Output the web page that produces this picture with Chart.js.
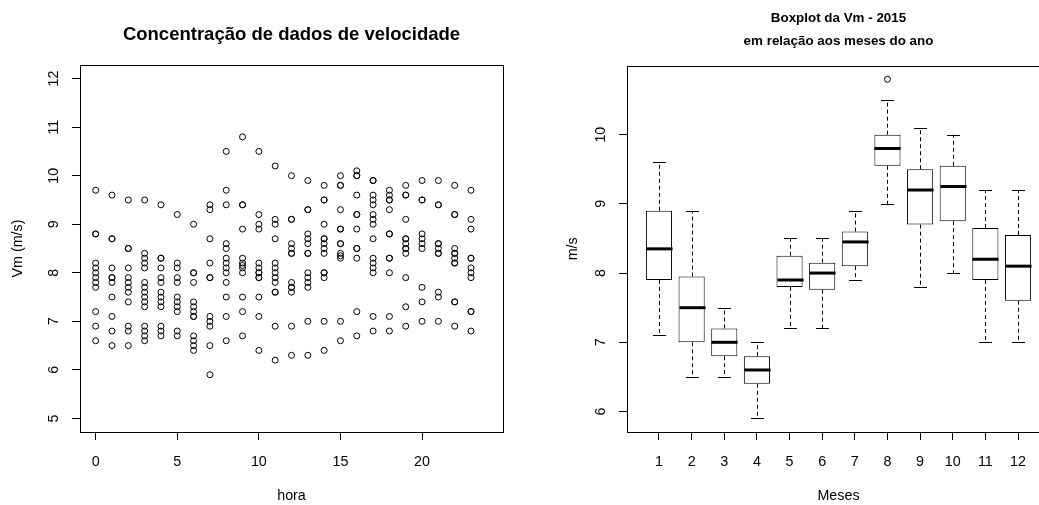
<!DOCTYPE html>
<html>
<head>
<meta charset="utf-8">
<script src="https://cdn.jsdelivr.net/npm/chart.js@4.4.0/dist/chart.umd.min.js"></script>
<style>
  html, body { margin: 0; padding: 0; background: #fff; overflow: hidden; }
  #left { position: absolute; left: 0; top: 0; width: 583px; height: 505px; }
  #right { position: absolute; left: 520px; top: 0; width: 637px; height: 505px; }
</style>
</head>
<body>
<div id="left"><canvas id="scatter"></canvas></div>
<div id="right"><canvas id="boxplot"></canvas></div>
<script>
// hourly speeds (one list per hour)
const horas = [0, 1, 2, 3, 4, 5, 6, 7, 8, 9, 10, 11, 12, 13, 14, 15, 16, 17, 18, 19, 20, 21, 22, 23];
const velocidades = [
  [9.7, 8.8, 8.8, 8.2, 8.1, 8.0, 7.9, 7.8, 7.7, 7.2, 6.9, 6.6],
  [9.6, 8.7, 8.7, 8.1, 7.9, 7.9, 7.8, 7.5, 7.1, 6.8, 6.5],
  [9.5, 8.5, 8.5, 8.1, 7.9, 7.8, 7.7, 7.6, 7.4, 6.9, 6.8, 6.5],
  [9.5, 8.4, 8.3, 8.2, 8.1, 7.8, 7.7, 7.6, 7.5, 7.4, 7.3, 6.9, 6.8, 6.7, 6.6],
  [9.4, 8.3, 8.3, 8.1, 7.9, 7.8, 7.6, 7.5, 7.4, 7.3, 6.9, 6.8, 6.7],
  [9.2, 8.2, 8.1, 7.9, 7.8, 7.5, 7.4, 7.3, 7.2, 6.8, 6.7],
  [9.0, 8.0, 8.0, 7.8, 7.4, 7.3, 7.2, 7.1, 7.1, 6.7, 6.6, 6.5, 6.4],
  [9.4, 9.3, 8.7, 8.2, 7.9, 7.9, 7.1, 7.0, 6.9, 6.5, 5.9],
  [10.5, 9.7, 9.4, 8.6, 8.5, 8.3, 8.2, 8.1, 8.0, 7.8, 7.5, 7.1, 6.6],
  [10.8, 9.4, 9.4, 8.9, 8.3, 8.2, 8.15, 8.1, 8.0, 7.5, 7.2, 6.7],
  [10.5, 9.2, 9.0, 8.9, 8.2, 8.1, 8.0, 8.0, 7.9, 7.9, 7.5, 7.1, 6.4],
  [10.2, 9.1, 9.0, 8.7, 8.2, 8.1, 8.0, 7.9, 7.8, 7.6, 7.6, 6.9, 6.2],
  [10.0, 9.1, 9.1, 8.6, 8.5, 8.4, 8.4, 7.8, 7.7, 7.7, 7.6, 6.9, 6.3],
  [9.9, 9.3, 9.3, 8.8, 8.7, 8.6, 8.4, 8.4, 8.0, 7.9, 7.8, 7.7, 7.0, 6.3],
  [9.8, 9.5, 9.5, 9.0, 8.7, 8.7, 8.6, 8.5, 8.4, 8.0, 8.0, 7.9, 7.0, 6.4],
  [10.0, 9.8, 9.8, 9.3, 8.9, 8.9, 8.6, 8.6, 8.4, 8.35, 8.3, 7.0, 6.6],
  [10.1, 10.0, 10.0, 9.6, 9.2, 9.2, 8.9, 8.5, 8.5, 8.3, 7.2, 6.7],
  [9.9, 9.9, 9.6, 9.5, 9.4, 9.2, 9.1, 9.0, 8.7, 8.3, 8.2, 8.1, 8.0, 7.1, 6.8],
  [9.7, 9.6, 9.5, 9.5, 9.3, 8.8, 8.8, 8.3, 8.3, 8.0, 7.1, 6.8],
  [9.8, 9.6, 9.6, 9.1, 8.7, 8.7, 8.6, 8.5, 8.5, 8.4, 7.9, 7.3, 6.9],
  [9.9, 9.5, 9.5, 8.8, 8.7, 8.6, 8.5, 7.7, 7.4, 7.0],
  [9.9, 9.4, 9.4, 8.6, 8.6, 8.5, 8.4, 8.4, 7.6, 7.5, 7.0],
  [9.8, 9.2, 9.2, 8.5, 8.4, 8.4, 8.3, 8.2, 8.2, 7.4, 7.4, 6.9],
  [9.7, 9.1, 8.9, 8.3, 8.3, 8.1, 8.0, 7.9, 7.2, 7.2, 6.8]
];
const horaTicks = [0, 5, 10, 15, 20];
const vmTicks = [5, 6, 7, 8, 9, 10, 11, 12];

// monthly boxplot stats
const meses = [1, 2, 3, 4, 5, 6, 7, 8, 9, 10, 11, 12];
const limInf = [7.1, 6.5, 6.5, 5.9, 7.2, 7.2, 7.9, 9.0, 7.8, 8.0, 7.0, 7.0];
const q1 = [7.9, 7.0, 6.8, 6.4, 7.8, 7.76, 8.1, 9.55, 8.7, 8.75, 7.9, 7.6];
const mediana = [8.35, 7.5, 7.0, 6.6, 7.9, 8.0, 8.45, 9.8, 9.2, 9.25, 8.2, 8.1];
const q3 = [8.9, 7.95, 7.2, 6.8, 8.25, 8.15, 8.6, 10.0, 9.5, 9.55, 8.65, 8.55];
const limSup = [9.6, 8.9, 7.5, 7.0, 8.5, 8.5, 8.9, 10.5, 10.1, 10.0, 9.2, 9.2];
const outlierMes = [8];
const outlierValor = [10.8];
const msTicks = [6, 7, 8, 9, 10];

Chart.defaults.font.family = "'Liberation Sans', Arial, sans-serif";
Chart.defaults.font.size = 14.3;
Chart.defaults.color = '#000';

// box around plot area, like R's box()
const frame = {
  id: 'frame',
  afterDraw(chart) {
    const { ctx, chartArea: a } = chart;
    ctx.save();
    ctx.strokeStyle = '#000';
    ctx.lineWidth = 1;
    ctx.strokeRect(Math.round(a.left) + 0.5, Math.round(a.top) + 0.5,
      Math.round(a.right - a.left), Math.round(a.bottom - a.top));
    ctx.restore();
  }
};

// whiskers, staples and medians for the boxplot
const whiskers = {
  id: 'whiskers',
  afterDatasetsDraw(chart) {
    const { ctx } = chart;
    const x = chart.scales.x, y = chart.scales.y;
    const boxes = chart.getDatasetMeta(0).data;
    ctx.save();
    ctx.strokeStyle = '#000';
    meses.forEach((m, i) => {
      const cx = Math.round(x.getPixelForValue(m)) + 0.5;
      const half = boxes[i].width / 2;
      const st = Math.abs(x.getPixelForValue(m + 0.2) - x.getPixelForValue(m));
      ctx.lineWidth = 1;
      ctx.setLineDash([4, 3]);
      ctx.beginPath();
      ctx.moveTo(cx, y.getPixelForValue(q3[i]));
      ctx.lineTo(cx, y.getPixelForValue(limSup[i]));
      ctx.moveTo(cx, y.getPixelForValue(q1[i]));
      ctx.lineTo(cx, y.getPixelForValue(limInf[i]));
      ctx.stroke();
      ctx.setLineDash([]);
      ctx.beginPath();
      const yt = Math.round(y.getPixelForValue(limSup[i])) + 0.5;
      const yb = Math.round(y.getPixelForValue(limInf[i])) + 0.5;
      ctx.moveTo(cx - st, yt); ctx.lineTo(cx + st, yt);
      ctx.moveTo(cx - st, yb); ctx.lineTo(cx + st, yb);
      ctx.stroke();
      ctx.lineWidth = 3;
      ctx.beginPath();
      const ym = y.getPixelForValue(mediana[i]);
      ctx.moveTo(cx - half, ym); ctx.lineTo(cx + half, ym);
      ctx.stroke();
    });
    ctx.restore();
  }
};

const axisGrid = { display: true, drawOnChartArea: false, drawTicks: true, tickLength: 8, color: '#000', lineWidth: 1 };

new Chart(document.getElementById('scatter'), {
  type: 'scatter',
  data: {
    datasets: [{
      data: horas.flatMap((h, i) => velocidades[i].map(v => ({ x: h, y: v }))),
      pointStyle: 'circle',
      pointRadius: 3,
      borderWidth: 1,
      borderColor: '#000',
      backgroundColor: 'rgba(0,0,0,0)'
    }]
  },
  options: {
    responsive: true,
    maintainAspectRatio: false,
    animation: false,
    layout: { padding: { left: 0, right: 80, top: 0, bottom: 0 } },
    plugins: {
      legend: { display: false },
      tooltip: { enabled: false },
      title: {
        display: true,
        fullSize: false,
        text: 'Concentração de dados de velocidade',
        font: { size: 18.5, weight: 'bold', lineHeight: 1.2 },
        padding: { top: 23.9, bottom: 18.9 }
      }
    },
    scales: {
      x: {
        type: 'linear', min: -0.96, max: 24.96,
        afterBuildTicks: s => { s.ticks = horaTicks.map(v => ({ value: v })); },
        afterFit: s => { s.height = 73; },
        ticks: { padding: 13.4, autoSkip: false, maxRotation: 0 },
        grid: axisGrid,
        border: { display: false },
        title: { display: true, text: 'hora', padding: { top: 0, bottom: 0 } }
      },
      y: {
        min: 4.72, max: 12.28,
        afterBuildTicks: s => { s.ticks = vmTicks.map(v => ({ value: v })); },
        afterFit: s => { s.width = 80; },
        ticks: { padding: 10, autoSkip: false, minRotation: 90, maxRotation: 90, crossAlign: 'center' },
        grid: axisGrid,
        border: { display: false },
        title: { display: true, text: 'Vm (m/s)', padding: { top: 9.4, bottom: 0 } }
      }
    }
  },
  plugins: [frame]
});

new Chart(document.getElementById('boxplot'), {
  type: 'bar',
  data: {
    labels: meses,
    datasets: [{
      data: meses.map((m, i) => [q1[i], q3[i]]),
      backgroundColor: '#fff',
      borderColor: '#000',
      borderWidth: 1,
      borderSkipped: false,
      barPercentage: 0.8,
      categoryPercentage: 1
    }, {
      type: 'scatter',
      data: outlierMes.map((m, i) => ({ x: m, y: outlierValor[i] })),
      pointStyle: 'circle',
      pointRadius: 3,
      borderWidth: 1,
      borderColor: '#000',
      backgroundColor: 'rgba(0,0,0,0)'
    }]
  },
  options: {
    responsive: true,
    maintainAspectRatio: false,
    animation: false,
    layout: { padding: { left: 0, right: 107, top: 0, bottom: 0 } },
    plugins: {
      legend: { display: false },
      tooltip: { enabled: false },
      title: {
        display: true,
        fullSize: false,
        text: ['Boxplot da Vm - 2015', 'em relação aos meses do ano'],
        font: { size: 13.4, weight: 'bold', lineHeight: '23px' },
        padding: { top: 7, bottom: 12.7 }
      }
    },
    scales: {
      x: {
        type: 'linear', min: 0.02, max: 12.98, offset: false,
        afterBuildTicks: s => { s.ticks = meses.map(v => ({ value: v })); },
        afterFit: s => { s.height = 73; },
        ticks: { padding: 13.4, autoSkip: false, maxRotation: 0 },
        grid: Object.assign({}, axisGrid, { offset: false }),
        border: { display: false },
        title: { display: true, text: 'Meses', padding: { top: 0, bottom: 0 } }
      },
      y: {
        min: 5.704, max: 10.996, beginAtZero: false,
        afterBuildTicks: s => { s.ticks = msTicks.map(v => ({ value: v })); },
        afterFit: s => { s.width = 107; },
        ticks: { padding: 10, autoSkip: false, minRotation: 90, maxRotation: 90, crossAlign: 'center' },
        grid: axisGrid,
        border: { display: false },
        title: { display: true, text: 'm/s', padding: { top: 44.4, bottom: 0 } }
      }
    }
  },
  plugins: [whiskers, frame]
});
</script>
</body>
</html>
